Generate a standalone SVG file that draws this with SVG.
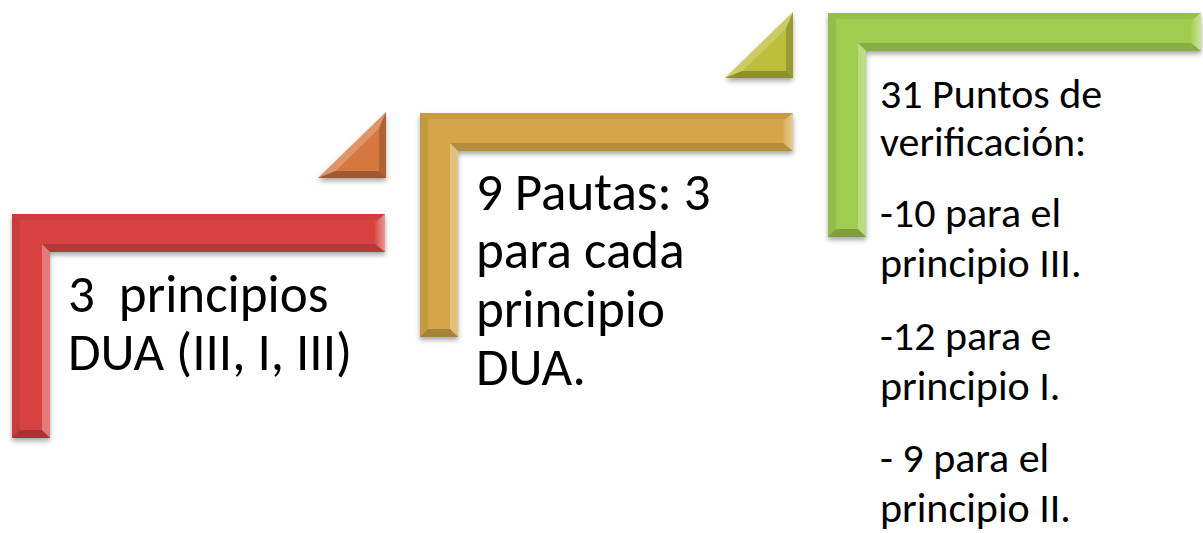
<svg xmlns="http://www.w3.org/2000/svg" width="1203" height="533" viewBox="0 0 1203 533">
<style>
  .t { font-family: Carlito, Calibri, Lato, "Open Sans", sans-serif; fill: #000; }
  .big { font-size: 53px; }
  .small { font-size: 42px; }
  .dk { fill: #000; }
  .lt { fill: #fff; }
</style>
<defs>
  <filter id="sh" x="-10%" y="-10%" width="120%" height="125%">
    <feDropShadow dx="0" dy="3" stdDeviation="2.5" flood-color="#000" flood-opacity="0.35"/>
  </filter>
  <linearGradient id="capG" x1="0" y1="0" x2="1" y2="0">
    <stop offset="0" stop-color="#fff" stop-opacity="0.05"/>
    <stop offset="1" stop-color="#fff" stop-opacity="0.45"/>
  </linearGradient>
  <path id="L" d="M0,0 H373 V38 H38 V224 H0 Z"/>
  <g id="bevL">
    <polygon class="dk" opacity="0.06" points="0,0 373,0 365,6 8,6"/>
    <polygon class="dk" opacity="0.08" points="0,0 8,6 8,216 0,224"/>
    <polygon fill="url(#capG)" points="373,0 373,38 363,30 363,8"/>
    <polygon class="dk" opacity="0.15" points="30,30 363,30 373,38 38,38"/>
    <polygon class="lt" opacity="0.3" points="30,30 38,38 38,224 30,216"/>
    <polygon class="dk" opacity="0.22" points="0,224 38,224 30,216 8,216"/>
  </g>
  <polygon id="T" points="68,0 68,66 0,66"/>
  <g id="bevT">
    <polygon class="lt" opacity="0.22" points="68,0 0,66 17.3,59 61,16.6"/>
    <polygon class="dk" opacity="0.18" points="68,0 68,66 61,59 61,16.6"/>
    <polygon class="dk" opacity="0.25" points="0,66 68,66 61,59 17.3,59"/>
  </g>
</defs>
<rect width="1203" height="533" fill="#fff"/>

<g id="connectors">
  <g transform="translate(318,112)">
    <use href="#T" fill="#d77841" filter="url(#sh)"/>
    <use href="#bevT"/>
  </g>
  <g transform="translate(725,12)">
    <use href="#T" fill="#bebe3c" filter="url(#sh)"/>
    <use href="#bevT"/>
  </g>
</g>

<g id="node1">
  <g transform="translate(12,214)">
    <use href="#L" fill="#d84242" filter="url(#sh)"/>
    <use href="#bevL"/>
  </g>
  <text class="t big" x="68" y="312" xml:space="preserve">3  principios</text>
  <text class="t big" x="68" y="370">DUA (III, I, III)</text>
</g>

<g id="node2">
  <g transform="translate(420,113)">
    <use href="#L" fill="#d4a648" filter="url(#sh)"/>
    <use href="#bevL"/>
  </g>
  <text class="t big" x="476" y="210">9 Pautas: 3</text>
  <text class="t big" x="476" y="268">para cada</text>
  <text class="t big" x="476" y="327">principio</text>
  <text class="t big" x="476" y="385">DUA.</text>
</g>

<g id="node3">
  <g transform="translate(828,13)">
    <use href="#L" fill="#a0cd50" filter="url(#sh)"/>
    <use href="#bevL"/>
  </g>
  <text class="t small" x="880" y="108">31 Puntos de</text>
  <text class="t small" x="880" y="156">verificación:</text>
  <text class="t small" x="880" y="227">-10 para el</text>
  <text class="t small" x="880" y="277">principio III.</text>
  <text class="t small" x="880" y="350">-12 para e</text>
  <text class="t small" x="880" y="400">principio I.</text>
  <text class="t small" x="880" y="472">- 9 para el</text>
  <text class="t small" x="880" y="522">principio II.</text>
</g>
</svg>
